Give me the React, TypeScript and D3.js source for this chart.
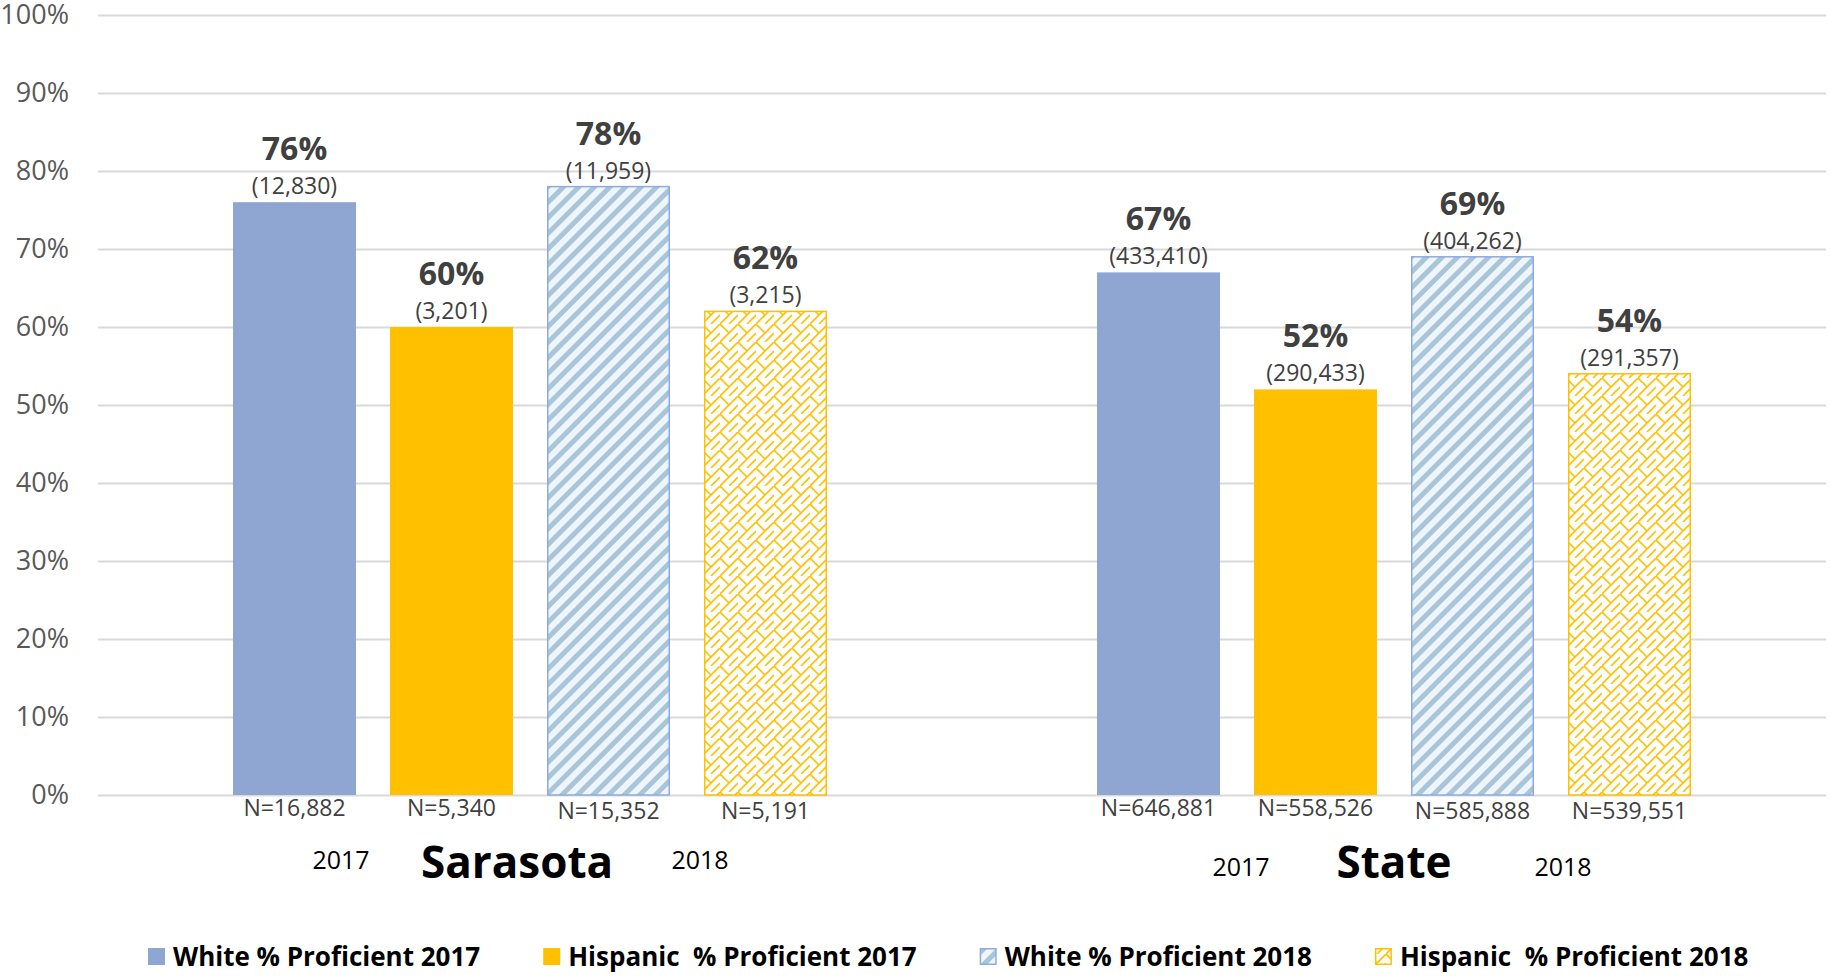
import React, { useEffect, useRef } from "react";
import * as d3 from "d3";

// Chart data
const groups = ["Sarasota", "State"];
const seriesNames = [
  "White % Proficient 2017",
  "Hispanic  % Proficient 2017",
  "White % Proficient 2018",
  "Hispanic  % Proficient 2018",
];
const sarasotaPct = [0.76, 0.6, 0.78, 0.62];
const statePct = [0.67, 0.52, 0.69, 0.54];
const sarasotaProficient = [12830, 3201, 11959, 3215];
const stateProficient = [433410, 290433, 404262, 291357];
const sarasotaN = [16882, 5340, 15352, 5191];
const stateN = [646881, 558526, 585888, 539551];
const yearLabels = ["2017", "2018"];

const FONT = "'Open Sans', 'DejaVu Sans', sans-serif";

const App = () => {
  const svgRef = useRef<SVGSVGElement>(null);

  useEffect(() => {
    const width = 1830;
    const height = 977;
    const margin = { top: 15, right: 4, bottom: 182, left: 98 };

    const svg = d3.select(svgRef.current);
    svg.selectAll("*").remove();
    svg.attr("width", width).attr("height", height);

    // fill patterns for the 2018 series
    const defs = svg.append("defs");
    const stripes = defs
      .append("pattern")
      .attr("id", "stripes")
      .attr("patternUnits", "userSpaceOnUse")
      .attr("width", 11)
      .attr("height", 11)
      .attr("patternTransform", "rotate(45)");
    stripes.append("rect").attr("width", 11).attr("height", 11).attr("fill", "#eef6fc");
    stripes.append("rect").attr("width", 5).attr("height", 11).attr("fill", "#a9c5da");

    const brick = defs
      .append("pattern")
      .attr("id", "brick")
      .attr("patternUnits", "userSpaceOnUse")
      .attr("width", 18)
      .attr("height", 18);
    brick.append("rect").attr("width", 18).attr("height", 18).attr("fill", "#ffffff");
    brick
      .append("path")
      .attr("d", "M-2,20 L20,-2 M0,0 L9,9 M9,18 L18,9")
      .attr("stroke", "#ffc000")
      .attr("stroke-width", 1.6)
      .attr("fill", "none");

    const fills = ["#8fa5d2", "#ffc000", "url(#stripes)", "url(#brick)"];
    const strokes = ["none", "none", "#8faadc", "#ffc000"];

    const rows = groups.flatMap((g, gi) => {
      const pct = gi === 0 ? sarasotaPct : statePct;
      const prof = gi === 0 ? sarasotaProficient : stateProficient;
      const n = gi === 0 ? sarasotaN : stateN;
      return pct.map((p, i) => ({ group: g, i, pct: p, prof: prof[i], n: n[i] }));
    });

    const x0 = d3
      .scaleBand()
      .domain(groups)
      .range([margin.left, width - margin.right])
      .padding(0);

    const x1 = d3
      .scaleBand()
      .domain(d3.range(seriesNames.length).map(String))
      .range([0, x0.bandwidth()])
      .paddingInner(0.2166)
      .paddingOuter(0.86);

    const y = d3
      .scaleLinear()
      .domain([0, 1])
      .range([height - margin.bottom, margin.top]);

    // y axis with gridlines
    const yAxis = svg
      .append("g")
      .attr("transform", `translate(${margin.left},0)`)
      .call(
        d3
          .axisLeft(y)
          .ticks(10)
          .tickFormat(d3.format(".0%"))
          .tickSize(-(width - margin.left - margin.right))
          .tickPadding(29)
      );
    yAxis.select(".domain").remove();
    yAxis.selectAll("line").attr("stroke", "#d9d9d9").attr("stroke-width", 2);
    yAxis
      .selectAll("text")
      .attr("font-family", FONT)
      .attr("font-size", 27)
      .attr("fill", "#595959");

    const barX = (d) => (x0(d.group) as number) + (x1(String(d.i)) as number);

    // bars
    svg
      .append("g")
      .selectAll("rect")
      .data(rows)
      .enter()
      .append("rect")
      .attr("x", (d) => barX(d) + (d.i >= 2 ? 0.75 : 0))
      .attr("width", (d) => x1.bandwidth() - (d.i >= 2 ? 1.5 : 0))
      .attr("y", (d) => y(d.pct))
      .attr("height", (d) => y(0) - y(d.pct))
      .attr("fill", (d) => fills[d.i])
      .attr("stroke", (d) => strokes[d.i])
      .attr("stroke-width", 1.5);

    const fmt = d3.format(",");
    const labels = svg.append("g").attr("font-family", FONT).attr("text-anchor", "middle");

    // percent labels
    labels
      .selectAll(".pct")
      .data(rows)
      .enter()
      .append("text")
      .attr("x", (d) => barX(d) + x1.bandwidth() / 2)
      .attr("y", (d) => y(d.pct) - 42)
      .attr("font-size", 32)
      .attr("font-weight", "bold")
      .attr("fill", "#404040")
      .text((d) => d3.format(".0%")(d.pct));

    // proficient counts
    labels
      .selectAll(".prof")
      .data(rows)
      .enter()
      .append("text")
      .attr("x", (d) => barX(d) + x1.bandwidth() / 2)
      .attr("y", (d) => y(d.pct) - 8)
      .attr("font-size", 23)
      .attr("fill", "#404040")
      .text((d) => `(${fmt(d.prof)})`);

    // N labels under bars
    labels
      .selectAll(".n")
      .data(rows)
      .enter()
      .append("text")
      .attr("x", (d) => barX(d) + x1.bandwidth() / 2)
      .attr("y", (d) => y(0) + (d.i >= 2 ? 24 : 21))
      .attr("font-size", 23)
      .attr("fill", "#404040")
      .text((d) => `N=${fmt(d.n)}`);

    // group names and year captions
    const groupShift = [-13, 0];
    const yearShift = [
      [-189, 170],
      [-153, 169],
    ];
    const yearBase = [869, 876];
    groups.forEach((g, gi) => {
      const cx = (x0(g) as number) + x0.bandwidth() / 2;
      labels
        .append("text")
        .attr("x", cx + groupShift[gi])
        .attr("y", 878)
        .attr("font-size", 44)
        .attr("font-weight", "bold")
        .attr("fill", "#000")
        .text(g);
      yearLabels.forEach((yl, yi) => {
        labels
          .append("text")
          .attr("x", cx + yearShift[gi][yi])
          .attr("y", yearBase[gi])
          .attr("font-size", 25)
          .attr("fill", "#000")
          .text(yl);
      });
    });

    // legend
    const legend = svg.append("g").attr("font-family", FONT);
    let lx = 148;
    seriesNames.forEach((name, i) => {
      legend
        .append("rect")
        .attr("x", lx + (i >= 2 ? 0.75 : 0))
        .attr("y", 948 + (i >= 2 ? 0.75 : 0))
        .attr("width", 17 - (i >= 2 ? 1.5 : 0))
        .attr("height", 17 - (i >= 2 ? 1.5 : 0))
        .attr("fill", fills[i])
        .attr("stroke", strokes[i])
        .attr("stroke-width", 1.5);
      const t = legend
        .append("text")
        .attr("x", lx + 25)
        .attr("y", 966)
        .attr("font-size", 26)
        .attr("font-weight", "bold")
        .attr("fill", "#000")
        .style("white-space", "pre")
        .text(name);
      const w = (t.node() as SVGTextElement).getComputedTextLength();
      lx += 25 + w + 63;
    });
  }, []);

  return (
    <svg
      ref={svgRef}
      width={1830}
      height={977}
      style={{ position: "absolute", left: 0, top: 0, background: "#fff" }}
    ></svg>
  );
};

export default App;
